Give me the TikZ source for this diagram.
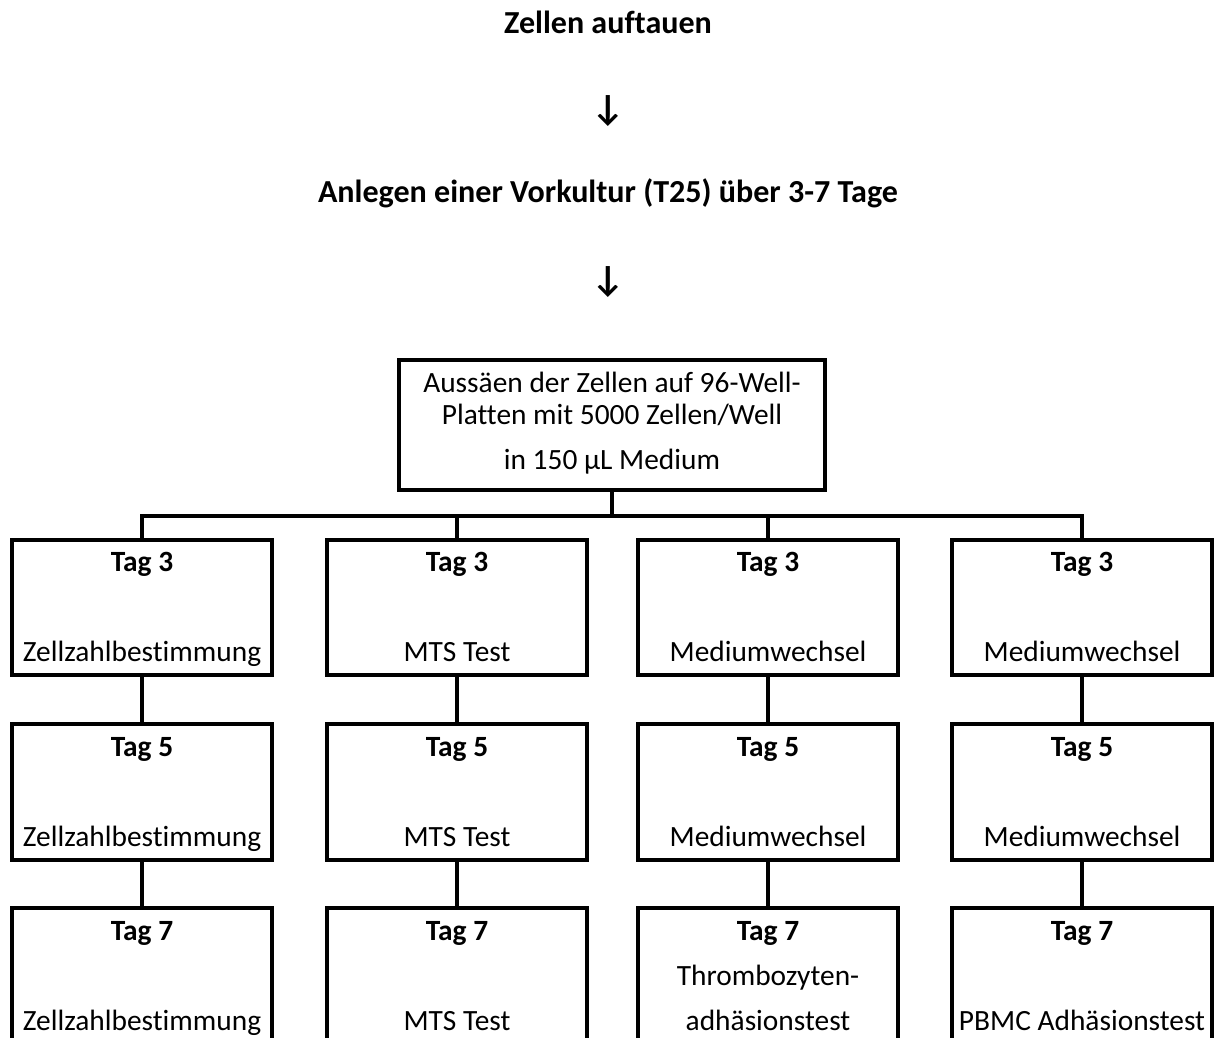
\documentclass[tikz,border=0pt]{standalone}
\usepackage{fontspec}
\setmainfont[Ligatures={NoCommon}]{Carlito}

\begin{document}
\begin{tikzpicture}[x=0.025cm, y=-0.025cm,
    every node/.style={font=\fontsize{20.9pt}{1.125cm}\selectfont},
    headline/.style={anchor=base,font=\fontsize{22.8pt}{1.125cm}\selectfont\bfseries},
    daybox/.style={rectangle,draw,line width=0.1cm,minimum width=6.5cm,minimum height=3.25cm,inner sep=0pt,align=center},
    link/.style={line width=0.1cm}]
    \useasboundingbox (0,0) rectangle (1214,1037) ;

    \node[headline] (thaw) at (608,34) {Zellen auftauen} ;
    \node[font=\fontsize{26pt}{1.125cm}\selectfont\bfseries] (arrow_one) at (608,111) {↓} ;
    \node[headline] (preculture) at (608,203) {Anlegen einer Vorkultur (T25) über 3-7 Tage} ;
    \node[font=\fontsize{26pt}{1.125cm}\selectfont\bfseries] (arrow_two) at (608,282) {↓} ;

    \node[rectangle,draw,line width=0.1cm,minimum width=10.625cm,minimum height=3.225cm,inner sep=0pt,align=center,font=\fontsize{20.9pt}{0.8cm}\selectfont] (seeding) at (612,425) {\strut Aussäen der Zellen auf 96-Well-\\Platten mit 5000 Zellen/Well\\[0.325cm]in 150 µL Medium\strut} ;

    \node[daybox] (count_3) at (142,607.5) {\strut\textbf{Tag 3}\\[1.125cm]Zellzahlbestimmung\strut} ;
    \node[daybox] (mts_3) at (457,607.5) {\strut\textbf{Tag 3}\\[1.125cm]MTS Test\strut} ;
    \node[daybox] (platelet_3) at (768,607.5) {\strut\textbf{Tag 3}\\[1.125cm]Mediumwechsel\strut} ;
    \node[daybox] (pbmc_3) at (1082,607.5) {\strut\textbf{Tag 3}\\[1.125cm]Mediumwechsel\strut} ;

    \node[daybox] (count_5) at (142,792) {\strut\textbf{Tag 5}\\[1.125cm]Zellzahlbestimmung\strut} ;
    \node[daybox] (mts_5) at (457,792) {\strut\textbf{Tag 5}\\[1.125cm]MTS Test\strut} ;
    \node[daybox] (platelet_5) at (768,792) {\strut\textbf{Tag 5}\\[1.125cm]Mediumwechsel\strut} ;
    \node[daybox] (pbmc_5) at (1082,792) {\strut\textbf{Tag 5}\\[1.125cm]Mediumwechsel\strut} ;

    \node[daybox] (count_7) at (142,976) {\strut\textbf{Tag 7}\\[1.125cm]Zellzahlbestimmung\strut} ;
    \node[daybox] (mts_7) at (457,976) {\strut\textbf{Tag 7}\\[1.125cm]MTS Test\strut} ;
    \node[daybox] (platelet_7) at (768,976) {\strut\textbf{Tag 7}\\Thrombozyten-\\adhäsionstest\strut} ;
    \node[daybox] (pbmc_7) at (1082,976) {\strut\textbf{Tag 7}\\[1.125cm]PBMC Adhäsionstest\strut} ;

    \coordinate (bus) at (612,516) ;

    \draw[link] (seeding.south) -- (bus) ;
    \draw[link] (bus) -| (count_3.north) ;
    \draw[link] (bus) -| (mts_3.north) ;
    \draw[link] (bus) -| (platelet_3.north) ;
    \draw[link] (bus) -| (pbmc_3.north) ;

    \draw[link] (count_3.south) -- (count_5.north) ;
    \draw[link] (count_5.south) -- (count_7.north) ;
    \draw[link] (mts_3.south) -- (mts_5.north) ;
    \draw[link] (mts_5.south) -- (mts_7.north) ;
    \draw[link] (platelet_3.south) -- (platelet_5.north) ;
    \draw[link] (platelet_5.south) -- (platelet_7.north) ;
    \draw[link] (pbmc_3.south) -- (pbmc_5.north) ;
    \draw[link] (pbmc_5.south) -- (pbmc_7.north) ;
\end{tikzpicture}
\end{document}
